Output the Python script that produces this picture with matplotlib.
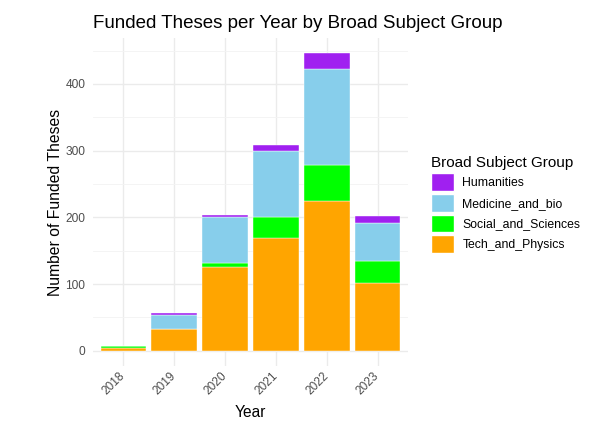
import numpy as np
import matplotlib
matplotlib.use('Agg')
import matplotlib.pyplot as plt
from matplotlib.patches import Patch

plt.rcParams['font.family'] = ['Liberation Sans', 'DejaVu Sans']

years = ['2018', '2019', '2020', '2021', '2022', '2023']
tech_and_physics = [4, 33, 125, 169, 224, 101]
social_and_sciences = [3, 0, 7, 31, 54, 33]
medicine_and_bio = [0, 21, 68, 100, 144, 58]
humanities = [0, 3, 3, 8, 24, 10]

groups = ['Humanities', 'Medicine_and_bio', 'Social_and_Sciences', 'Tech_and_Physics']
farger = {'Humanities': '#A020F0', 'Medicine_and_bio': '#87CEEB',
          'Social_and_Sciences': '#00FF00', 'Tech_and_Physics': '#FFA500'}

fig = plt.figure(figsize=(6.09, 4.21), dpi=100)
ax = fig.add_axes([0.1527, 0.1316, 0.5173, 0.7772])

x = np.arange(1, len(years) + 1)
bunn = np.zeros(len(years))
# stable fra bunnen: Tech, Social, Medicine, Humanities
for navn, verdier in [('Tech_and_Physics', tech_and_physics),
                      ('Social_and_Sciences', social_and_sciences),
                      ('Medicine_and_bio', medicine_and_bio),
                      ('Humanities', humanities)]:
    ax.bar(x, verdier, bottom=bunn, width=0.9, color=farger[navn],
           edgecolor='white', linewidth=0.3, zorder=3)
    bunn = bunn + np.array(verdier)

topp = bunn.max()
ax.set_xlim(0.4, 6.6)
ax.set_ylim(-topp * 0.05, topp * 1.05)
ax.set_xticks(x)
ax.set_xticklabels(years, rotation=45, ha='right', va='center',
                   rotation_mode='anchor')
ax.set_yticks([0, 100, 200, 300, 400])
ax.set_yticks([50, 150, 250, 350, 450], minor=True)

ax.grid(True, which='major', color='#EBEBEB', linewidth=1.0, zorder=0)
ax.grid(True, which='minor', axis='y', color='#F3F3F3', linewidth=0.6, zorder=0)
for s in ax.spines.values():
    s.set_visible(False)
ax.tick_params(which='both', length=0, labelsize=8.6, labelcolor='#4D4D4D')
ax.tick_params(axis='y', pad=5.5)
ax.tick_params(axis='x', pad=6)

ax.set_xlabel('Year', fontsize=11.2, labelpad=6)
ax.set_ylabel('Number of Funded Theses', fontsize=11.3, labelpad=2)
ax.set_title('Funded Theses per Year by Broad Subject Group', fontsize=13.5,
             loc='left', x=0.0, pad=7.5)

handles = [Patch(facecolor=farger[g], edgecolor='white', label=g) for g in groups]
leg = fig.legend(handles=handles, title='Broad Subject Group', loc='upper left',
                 bbox_to_anchor=(0.700, 0.641), frameon=False, fontsize=8.8,
                 title_fontsize=11, handlelength=1.85, handleheight=1.85,
                 handletextpad=0.7, labelspacing=0.25, borderaxespad=0)
leg._legend_box.align = 'left'

plt.savefig('out.png', dpi=100)
